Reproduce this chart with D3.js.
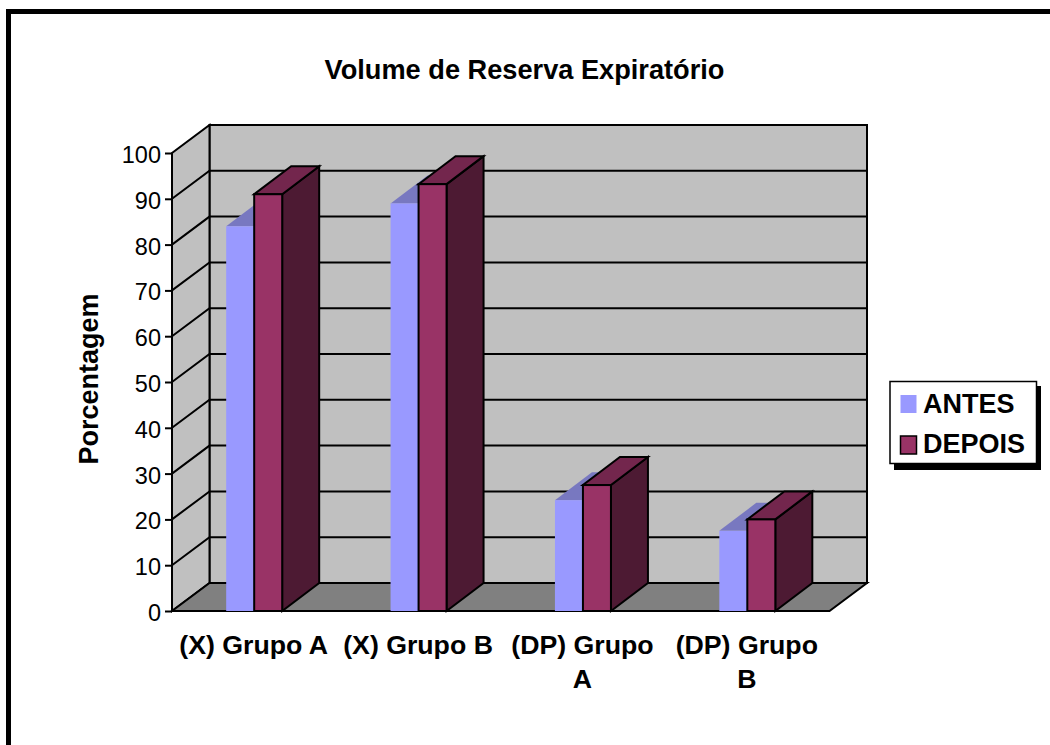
<!DOCTYPE html>
<html>
<head>
<meta charset="utf-8">
<script src="https://cdn.jsdelivr.net/npm/d3@7"></script>
<style>
  html, body { margin: 0; padding: 0; background: #fff; }
  svg { display: block; }
  text { font-family: "Liberation Sans", Arial, sans-serif; fill: #000; }
</style>
</head>
<body>
<svg id="chart" width="1050" height="745"></svg>
<script>
// Chart data
const categories = ["(X) Grupo A", "(X) Grupo B", "(DP) Grupo A", "(DP) Grupo B"];
const categoryLines = [["(X) Grupo A"], ["(X) Grupo B"], ["(DP) Grupo", "A"], ["(DP) Grupo", "B"]];
const antes = [84, 89, 24.2, 17.5];
const depois = [91, 93.2, 27.5, 20];
const seriesNames = ["ANTES", "DEPOIS"];
const yTicks = [0, 10, 20, 30, 40, 50, 60, 70, 80, 90, 100];

const svg = d3.select("#chart");

// Outer frame
svg.append("path")
  .attr("d", "M8.5,745V11.5H1050")
  .attr("fill", "none").attr("stroke", "#000").attr("stroke-width", 5);

// Oblique projection: depth shift of the walls and of the bar bodies
const depth = { x: 37.5, y: -28 };
const barDepth = { x: 37, y: -28 };
const x = d3.scaleBand().domain(categories).range([172, 829.5]);
const y = d3.scaleLinear().domain([0, 100]).range([611, 153]);
const barW = 28;
const [x0, x1] = x.range();

const grid = svg.append("g").attr("stroke", "#000").attr("stroke-width", 2);
const poly = (pts) => d3.line()(pts) + "Z";

// Back wall, side wall and floor
grid.append("path").attr("fill", "#c0c0c0").attr("d", poly([
  [x0 + depth.x, y(0) + depth.y], [x1 + depth.x, y(0) + depth.y],
  [x1 + depth.x, y(100) + depth.y], [x0 + depth.x, y(100) + depth.y]]));
grid.append("path").attr("fill", "#c0c0c0").attr("d", poly([
  [x0, y(0)], [x0 + depth.x, y(0) + depth.y],
  [x0 + depth.x, y(100) + depth.y], [x0, y(100)]]));
grid.append("path").attr("fill", "#808080").attr("d", poly([
  [x0, y(0)], [x1, y(0)], [x1 + depth.x, y(0) + depth.y], [x0 + depth.x, y(0) + depth.y]]));

// Gridlines across both walls
grid.selectAll("path.gridline").data(yTicks.slice(1, -1)).join("path")
  .attr("class", "gridline").attr("fill", "none")
  .attr("d", d => d3.line()([[x0, y(d)], [x0 + depth.x, y(d) + depth.y], [x1 + depth.x, y(d) + depth.y]]));

// Axis with outward ticks and numeric labels
const yAxis = svg.append("g").attr("transform", `translate(${x0},0)`)
  .call(d3.axisLeft(y).tickValues(yTicks).tickSize(7).tickPadding(4).tickFormat(d3.format("d")));
yAxis.select(".domain").remove();
yAxis.selectAll(".tick line").attr("stroke", "#000").attr("stroke-width", 2);
yAxis.selectAll("text").attr("font-size", 23.5).attr("dy", "0.4em")
  .style("font-family", '"Liberation Sans", Arial, sans-serif');

// Front edge of the floor and the axis line
svg.append("path").attr("fill", "none").attr("stroke", "#000").attr("stroke-width", 2)
  .attr("d", d3.line()([[x0, y(100)], [x0, y(0)], [x1, y(0)]]));

// ANTES bars: no outline; the side face stays behind the DEPOIS bar
const groups = svg.selectAll("g.cat").data(categories).join("g").attr("class", "cat");
const center = (c) => x(c) + x.bandwidth() / 2;

groups.append("path").attr("fill", "#7878c0").attr("d", (c, i) => {
  const l = center(c) - barW, r = center(c), t = y(antes[i]);
  return poly([[l, t], [r, t], [r + barDepth.x, t + barDepth.y], [l + barDepth.x, t + barDepth.y]]);
});
groups.append("rect").attr("fill", "#9999ff")
  .attr("x", c => center(c) - barW).attr("width", barW)
  .attr("y", (c, i) => y(antes[i])).attr("height", (c, i) => y(0) - y(antes[i]));

// DEPOIS bars: front, top and side faces with black outlines
const outlined = groups.append("g").attr("stroke", "#000").attr("stroke-width", 2).attr("stroke-linejoin", "miter");
outlined.append("path").attr("fill", "#4d1a33").attr("d", (c, i) => {
  const r = center(c) + barW, t = y(depois[i]);
  return poly([[r, t], [r + barDepth.x, t + barDepth.y], [r + barDepth.x, y(0) + barDepth.y], [r, y(0)]]);
});
outlined.append("path").attr("fill", "#73264d").attr("d", (c, i) => {
  const l = center(c), r = l + barW, t = y(depois[i]);
  return poly([[l, t], [r, t], [r + barDepth.x, t + barDepth.y], [l + barDepth.x, t + barDepth.y]]);
});
outlined.append("rect").attr("fill", "#993366")
  .attr("x", c => center(c)).attr("width", barW)
  .attr("y", (c, i) => y(depois[i])).attr("height", (c, i) => y(0) - y(depois[i]));

// Category labels, wrapped onto two lines where they do not fit
const catLabels = svg.selectAll("text.cat-label").data(categories).join("text")
  .attr("class", "cat-label").attr("text-anchor", "middle")
  .attr("font-size", 26.7).attr("font-weight", "bold");
catLabels.each(function (c, i) {
  d3.select(this).selectAll("tspan").data(categoryLines[i]).join("tspan")
    .attr("x", center(c) - 0.5).attr("y", (d, j) => 654 + j * 34).text(d => d);
});

// Title and y-axis title
svg.append("text").attr("x", 524.5).attr("y", 78.5).attr("text-anchor", "middle")
  .attr("font-size", 27.2).attr("font-weight", "bold").text("Volume de Reserva Expiratório");
svg.append("text").attr("transform", "translate(98,379) rotate(-90)").attr("text-anchor", "middle")
  .attr("font-size", 27).attr("font-weight", "bold").text("Porcentagem");

// Legend box with drop shadow
const legend = svg.append("g");
legend.append("rect").attr("x", 894).attr("y", 386).attr("width", 147).attr("height", 84).attr("fill", "#000");
legend.append("rect").attr("x", 890).attr("y", 381.5).attr("width", 146.5).attr("height", 82)
  .attr("fill", "#fff").attr("stroke", "#000").attr("stroke-width", 1.5);
const legendColors = ["#9999ff", "#993366"];
const legendTop = [395, 436];
const legendBase = [412.5, 453];
seriesNames.forEach((name, i) => {
  legend.append("rect").attr("x", 900.5).attr("y", legendTop[i]).attr("width", 16).attr("height", 18)
    .attr("fill", legendColors[i]).attr("stroke", i ? "#000" : "none").attr("stroke-width", 1.5);
  legend.append("text").attr("x", 923).attr("y", legendBase[i])
    .attr("font-size", 27).attr("font-weight", "bold").text(name);
});
</script>
</body>
</html>
